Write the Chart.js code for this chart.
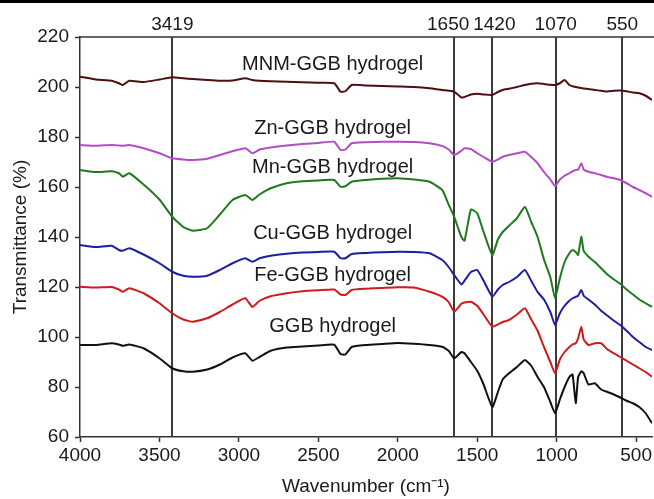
<!DOCTYPE html>
<html><head><meta charset="utf-8">
<script src="https://cdn.jsdelivr.net/npm/chart.js@4.4.1/dist/chart.umd.min.js"></script>
<style>html,body{margin:0;padding:0;background:#fff}#wrap{width:654px;height:499px;position:relative}</style>
</head><body><div id="wrap"><canvas id="c" width="654" height="499"></canvas></div>
<script>
// ---- data ----
const wavenumbers = [4000,3900,3800,3755,3730,3690,3600,3500,3420,3350,3290,3200,3120,3040,2960,2915,2870,2800,2700,2600,2500,2400,2360,2330,2290,2200,2100,2000,1900,1800,1720,1680,1645,1600,1580,1540,1500,1460,1405,1370,1340,1300,1250,1200,1160,1120,1080,1040,1010,980,950,920,900,880,865,845,830,800,760,720,680,640,600,560,520,480,440,400];

const mnmGGB = [204.1,203.0,202.5,201.5,200.8,202.5,202.0,203.0,203.9,203.5,
 203.2,202.8,202.5,202.6,203.5,202.8,202.5,202.3,202.1,201.9,
 201.7,201.5,198.1,198.3,200.8,200.6,200.4,200.2,200.0,199.5,
 198.8,198.5,198.1,195.8,196.0,197.0,197.3,197.0,196.8,198.0,
 198.8,199.3,200.0,200.8,201.3,201.5,201.2,200.9,200.8,201.5,
 202.8,200.8,200.3,200.0,199.8,199.6,199.4,199.2,198.8,198.5,
 198.2,198.5,198.6,198.3,197.8,197.5,196.5,194.8];

const znGGB = [176.8,176.5,176.8,176.6,176.5,176.8,175.5,173.5,171.5,171.0,
 170.8,171.3,172.8,174.3,175.5,173.5,175.0,175.8,176.6,177.2,
 177.6,178.1,174.8,175.0,177.5,177.9,178.1,178.1,178.0,177.5,
 176.4,175.0,172.8,174.5,175.5,175.2,173.5,172.0,170.1,171.0,
 172.1,172.8,173.5,174.1,172.0,169.5,166.0,163.0,160.4,163.0,
 164.5,165.5,166.3,166.8,167.0,169.5,167.0,166.1,165.5,164.8,
 164.0,163.5,162.8,161.5,160.0,158.8,157.5,156.1];

const mnGGB = [166.8,166.0,166.3,165.5,164.1,165.5,161.0,155.0,148.1,144.0,
 142.5,143.5,149.0,154.8,156.8,154.8,157.0,159.5,161.5,162.3,
 162.6,162.8,160.1,160.3,162.1,162.8,163.3,163.5,163.0,162.1,
 158.8,153.0,148.1,140.0,138.5,151.0,149.5,142.0,132.8,139.0,
 142.0,144.5,147.5,152.1,146.0,140.0,131.0,124.0,115.5,123.5,
 130.0,133.5,134.8,134.0,132.8,140.1,134.5,132.1,130.0,127.5,
 125.0,123.0,121.3,119.0,117.0,115.0,113.5,112.1];

const cuGGB = [136.8,136.0,136.5,134.8,134.5,135.5,133.0,129.5,126.1,124.5,
 124.1,124.5,126.8,129.5,131.5,130.1,131.5,132.5,133.3,133.8,
 134.0,134.1,131.5,131.5,133.2,133.6,133.9,134.1,134.0,133.5,
 130.8,128.0,124.8,121.0,122.5,126.0,126.8,122.5,116.1,119.0,
 120.8,122.0,124.0,126.8,122.5,118.0,115.0,110.0,104.8,109.5,
 112.5,114.5,115.5,116.1,116.5,118.8,116.5,115.0,113.0,110.5,
 108.5,106.5,104.8,102.5,100.0,98.0,96.0,94.8];

const feGGB = [120.1,119.8,120.0,119.0,118.1,119.5,117.5,113.5,109.5,107.0,
 106.1,107.5,110.0,113.0,115.5,112.0,114.5,116.3,117.5,118.3,
 118.7,119.0,117.0,116.8,118.8,119.3,119.6,119.9,119.8,118.1,
 116.1,114.0,110.1,113.3,113.8,114.1,112.5,109.0,104.1,105.0,
 106.0,106.8,109.0,111.5,107.0,102.5,96.0,90.0,85.5,91.0,
 94.0,96.0,97.0,97.5,99.5,104.1,99.0,96.8,97.5,97.5,
 95.0,93.5,92.0,90.5,89.0,87.5,86.0,84.1];

const ggb = [96.8,96.8,97.5,97.0,96.5,97.0,95.5,91.5,87.5,86.3,
 86.1,87.0,89.0,91.8,93.5,90.5,92.0,94.5,95.8,96.2,
 96.6,96.9,93.2,93.0,96.0,96.8,97.2,97.6,97.3,96.8,
 96.1,94.5,91.5,94.0,93.5,90.0,86.5,81.0,72.0,78.0,
 83.0,85.5,88.0,90.8,88.5,84.0,80.0,74.0,69.5,75.0,
 80.0,84.0,85.0,73.5,84.0,86.3,85.5,81.0,81.5,79.0,
 78.0,77.0,75.8,74.5,73.5,72.0,69.5,65.5];

const seriesNames = ['MNM-GGB hydrogel','Zn-GGB hydrogel','Mn-GGB hydrogel','Cu-GGB hydrogel','Fe-GGB hydrogel','GGB hydrogel'];
const seriesValues = [mnmGGB, znGGB, mnGGB, cuGGB, feGGB, ggb];

const markerLabels = ['3419','1650','1420','1070','550'];
const markerWavenumbers = [3419,1645,1405,1006,587];

const xTickValues = [4000,3500,3000,2500,2000,1500,1000,500];
const yTickValues = [60,80,100,120,140,160,180,200,220];

// ---- styles / layout ----
const seriesColors = ['#4e0f10','#b24dc6','#1d7a1f','#1b1f9e','#cc1c1c','#111111'];
const seriesLabelAt = [[2410,209.2],[2410,183.6],[2410,168.0],[2410,141.6],[2410,124.8],[2410,104.1]];
const markerLabelShift = [0,-6,2,0,0];
const FONT = '"Liberation Sans", Arial, sans-serif';
const FS = 19;
const LABEL_FS = 20;
const INK = '#1a1a1a';

const overlay = {
  id: 'overlay',
  beforeDraw(chart) {
    const c = chart.ctx; c.save(); c.fillStyle = '#fff'; c.fillRect(0, 0, chart.width, chart.height); c.restore();
  },
  beforeDatasetsDraw(chart) {
    const {ctx, chartArea: a, scales: {x}} = chart;
    ctx.save();
    ctx.strokeStyle = '#3c3c3c'; ctx.lineWidth = 2;
    markerWavenumbers.forEach(v => {
      const px = Math.round(x.getPixelForValue(v));
      ctx.beginPath(); ctx.moveTo(px, a.top); ctx.lineTo(px, a.bottom); ctx.stroke();
    });
    ctx.restore();
  },
  afterDatasetsDraw(chart) {
    const {ctx, chartArea: a, scales: {x, y}} = chart;
    ctx.save();
    ctx.strokeStyle = '#333'; ctx.lineWidth = 1.5;
    ctx.beginPath(); ctx.moveTo(a.left, a.top); ctx.lineTo(chart.width, a.top); ctx.stroke();
    ctx.fillStyle = '#000'; ctx.fillRect(0, 0, chart.width, 3);
    ctx.fillStyle = INK;
    ctx.textAlign = 'center'; ctx.textBaseline = 'middle';
    ctx.font = FS + 'px ' + FONT;
    markerLabels.forEach((t, i) => {
      ctx.fillText(t, x.getPixelForValue(markerWavenumbers[i]) + markerLabelShift[i], a.top - 12);
    });
    ctx.font = LABEL_FS + 'px ' + FONT;
    seriesNames.forEach((t, i) => {
      const [wx, wy] = seriesLabelAt[i];
      ctx.fillText(t, x.getPixelForValue(wx), y.getPixelForValue(wy));
    });
    ctx.restore();
  }
};

new Chart(document.getElementById('c'), {
  type: 'line',
  data: {
    datasets: seriesNames.map((n, i) => ({
      label: n,
      data: wavenumbers.map((w, j) => ({x: w, y: seriesValues[i][j]})),
      borderColor: seriesColors[i],
      borderWidth: 2,
      pointRadius: 0,
      tension: 0.15,
      fill: false
    }))
  },
  options: {
    responsive: false,
    devicePixelRatio: 1,
    animation: false,
    layout: {padding: {top: 37, right: 1, left: 0, bottom: 0}},
    plugins: {legend: {display: false}, tooltip: {enabled: false}},
    scales: {
      x: {
        type: 'linear', reverse: true, min: 400, max: 4000,
        afterBuildTicks: s => { s.ticks = xTickValues.map(v => ({value: v})); },
        afterFit: s => { s.height = 62; },
        grid: {drawOnChartArea: false, drawTicks: true, tickLength: 5, color: '#333', tickWidth: 1.5},
        border: {display: true, color: '#333', width: 1.5},
        ticks: {font: {family: FONT, size: FS}, color: INK, padding: 2, maxRotation: 0, autoSkip: false, callback: v => String(v)},
        title: {display: true, text: 'Wavenumber (cm⁻¹)', font: {family: FONT, size: FS}, color: INK, padding: {top: 0, bottom: 1}}
      },
      y: {
        type: 'linear', min: 60, max: 220,
        afterBuildTicks: s => { s.ticks = yTickValues.map(v => ({value: v})); },
        afterFit: s => { s.width = 80; },
        grid: {drawOnChartArea: false, drawTicks: true, tickLength: 5, color: '#333', tickWidth: 1.5},
        border: {display: true, color: '#333', width: 1.5},
        ticks: {font: {family: FONT, size: FS}, color: INK, padding: 6, callback: v => String(v)},
        title: {display: true, text: 'Transmittance (%)', font: {family: FONT, size: FS}, color: INK, padding: {top: 9, bottom: 0}}
      }
    }
  },
  plugins: [overlay]
});
</script></body></html>
